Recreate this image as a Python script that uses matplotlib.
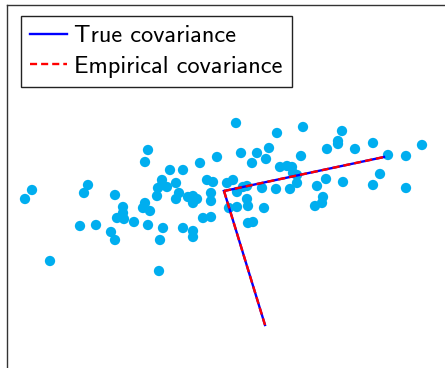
import matplotlib.pyplot as plt
import numpy as np

# sample points
xs = [0.275, 1.95, 2.925, 1.3, 2.825, 2.825, 3.7, 2.55, 3.25, 4.925,
      -1.925, 1.1, 0.4, 0.8, 1.9, 4.075, 4.525, -0.2, 1.025, 0.675,
      -2.0, -0.625, 1.375, 1.55, 1.675, -1.375, -1.05, 1.7, 1.8, 3.875,
      -0.45, -0.3, 0.2, 0.05, 2.525, 2.95, -1.575, -1.575, -1.225, -1.45,
      -1.675, -3.425, -4.825, -5.0, -3.525, -2.75, -1.7, -1.15, -1.225, -0.925,
      -0.8, -0.7, -0.8, -0.35, -0.35, 0.3, 0.45, 0.55, 0.925, 1.275,
      1.625, 1.8, 2.3, 3.7, 4.525, 0.55, 0.575, 0.3, 0.1, 0.975,
      2.45, 2.425, 2.25, -2.0, -2.05, -1.875, -2.55, -2.55, -2.7, -2.525,
      -2.275, -1.925, -1.55, -1.05, -0.8, -0.8, -0.55, -0.35, 0.575, 0.7,
      -3.625, -3.225, -2.85, -2.75, -1.625, -4.375, -1.65]
ys = [1.675, 1.575, 1.475, 1.425, 1.225, 1.15, 1.175, 1.025, 1.025, 1.125,
      1.0, 1.05, 0.925, 0.925, 0.85, 0.875, 0.85, 0.825, 0.775, 0.675,
      0.7, 0.675, 0.575, 0.6, 0.575, 0.5, 0.5, 0.425, 0.375, 0.4,
      0.25, 0.2, 0.25, 0.175, 0.275, 0.2, 0.25, 0.125, 0.175, 0.075,
      0.05, 0.125, 0.0, -0.225, -0.075, -0.125, -0.15, -0.075, -0.225, -0.175,
      -0.15, -0.225, -0.325, -0.075, -0.275, -0.05, 0.075, 0.1, 0.05, 0.025,
      0.025, 0.175, 0.1, 0.125, 0.05, -0.225, -0.4, -0.425, -0.45, -0.45,
      -0.175, -0.325, -0.4, -0.325, -0.45, -0.525, -0.425, -0.575, -0.7, -0.725,
      -0.8, -0.875, -0.95, -0.95, -1.025, -1.175, -0.7, -0.675, -0.825, -0.8,
      -0.9, -0.875, -1.05, -1.25, -1.25, -1.775, -2.025]

# mean and scaled principal axes
center = [-0.025, -0.025]
axis1 = [4.0, 0.85]
axis2 = [1.025, -3.35]

fig = plt.figure(figsize=(4.45, 3.68), dpi=100)
ax = fig.add_axes([7 / 445, -12 / 368, 453 / 445, 375 / 368])
ax.set_xlim(-5.45, 5.875)
ax.set_ylim(-4.75, 4.625)
ax.set_xticks([])
ax.set_yticks([])
for sp in ax.spines.values():
    sp.set_color('#333333')
    sp.set_linewidth(1.0)

ax.scatter(xs, ys, s=55, color='#00aeef', edgecolors='none', zorder=2)

dash = (3.0, 1.7)
for v in (axis1, axis2):
    px = [center[0], center[0] + v[0]]
    py = [center[1], center[1] + v[1]]
    ax.plot(px, py, color='blue', lw=1.7, zorder=3)
    ax.plot(px, py, color='red', lw=1.7, ls='--', dashes=dash, zorder=4)

ax.plot([], [], color='blue', lw=1.7, label='True covariance')
ax.plot([], [], color='red', lw=1.7, ls='--', dashes=dash,
        label='Empirical covariance')
leg = ax.legend(loc='upper left', bbox_to_anchor=(21 / 445, 1 - 16 / 368),
                bbox_transform=fig.transFigure, borderaxespad=0,
                fancybox=False, framealpha=1, edgecolor='#222222',
                prop={'family': 'cmss10', 'size': 17.5},
                handlelength=1.5, handletextpad=0.3, borderpad=0.38,
                labelspacing=0.35)
leg.get_frame().set_linewidth(1.0)

fig.savefig('out.png', dpi=100)
